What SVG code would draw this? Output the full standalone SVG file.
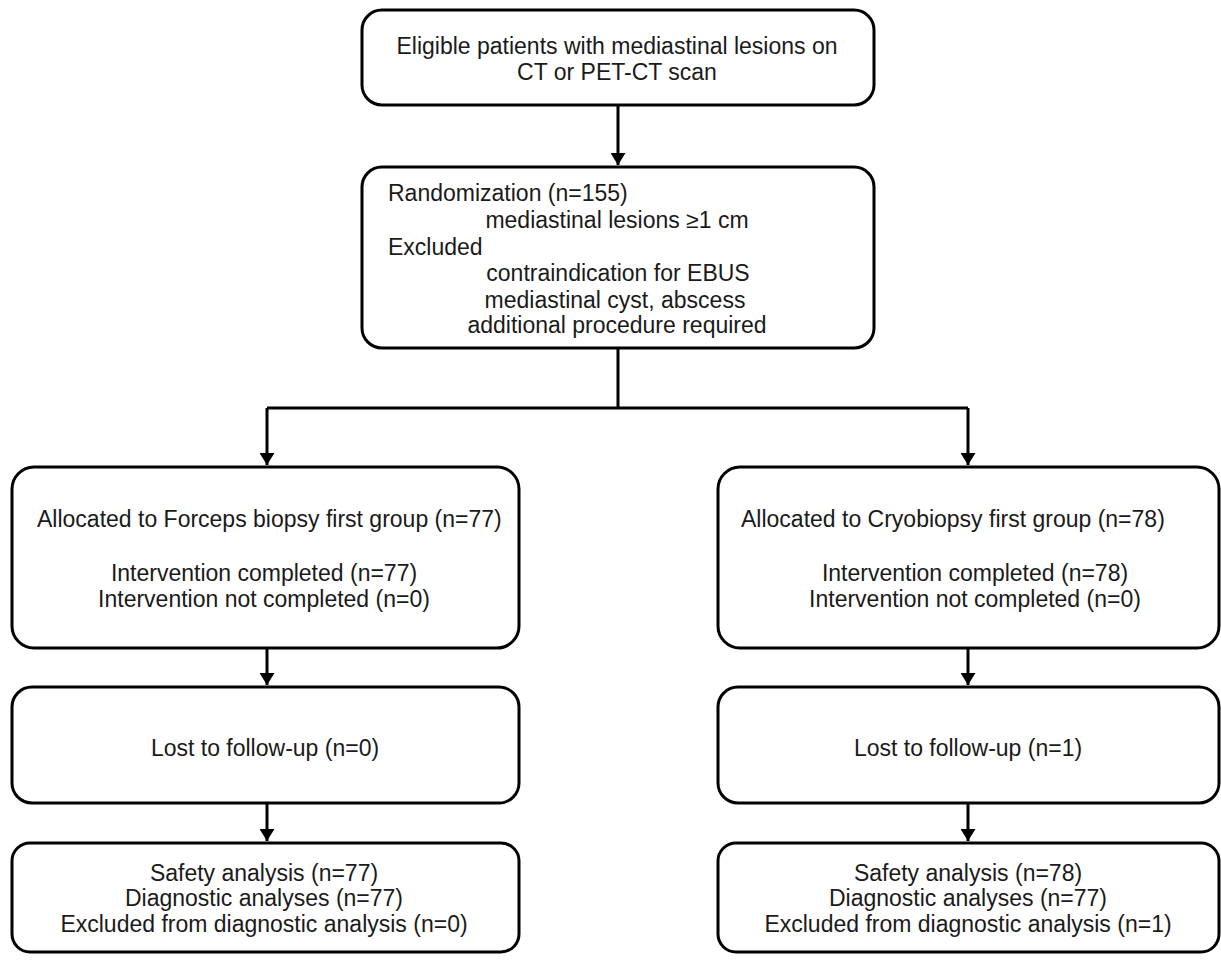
<svg xmlns="http://www.w3.org/2000/svg" width="1221" height="962" viewBox="0 0 1221 962">
<style>
.box{fill:#fff;stroke:#000;stroke-width:3}
.t{font-family:"Liberation Sans",Arial,sans-serif;font-size:23px;fill:#1a1a1a}
.c{text-anchor:middle}
.ln{fill:none;stroke:#000;stroke-width:3}
</style>
<defs>
<marker id="ah" markerWidth="5" markerHeight="5" refX="4" refY="2.5" orient="auto" markerUnits="strokeWidth">
<path d="M0,0 L4,2.5 L0,5 Z" fill="#000"/>
</marker>
</defs>
<rect width="1221" height="962" fill="#fff"/>
<g id="connectors">
<path class="ln" d="M618,105 V165" marker-end="url(#ah)"/>
<path class="ln" d="M618,348 V408"/>
<path class="ln" d="M267,408 H968"/>
<path class="ln" d="M267,408 V465" marker-end="url(#ah)"/>
<path class="ln" d="M968,408 V465" marker-end="url(#ah)"/>
<path class="ln" d="M267,648 V685" marker-end="url(#ah)"/>
<path class="ln" d="M968,648 V685" marker-end="url(#ah)"/>
<path class="ln" d="M267,803 V841" marker-end="url(#ah)"/>
<path class="ln" d="M968,803 V841" marker-end="url(#ah)"/>
</g>
<g id="n1">
<rect class="box" x="362" y="10" width="512" height="95" rx="20"/>
<text class="t c" x="617" y="54">Eligible patients with mediastinal lesions on</text>
<text class="t c" x="617" y="80">CT or PET-CT scan</text>
</g>
<g id="n2">
<rect class="box" x="362" y="167" width="512" height="181" rx="20"/>
<text class="t" x="388" y="201">Randomization (n=155)</text>
<text class="t c" x="617" y="228">mediastinal lesions ≥1 cm</text>
<text class="t" x="388" y="255">Excluded</text>
<text class="t c" x="618" y="281">contraindication for EBUS</text>
<text class="t c" x="615" y="308">mediastinal cyst, abscess</text>
<text class="t c" x="617" y="333">additional procedure required</text>
</g>
<g id="n3">
<rect class="box" x="12" y="467" width="507" height="181" rx="22"/>
<text class="t" x="37" y="527">Allocated to Forceps biopsy first group (n=77)</text>
<text class="t c" x="264" y="581">Intervention completed (n=77)</text>
<text class="t c" x="264" y="607">Intervention not completed (n=0)</text>
</g>
<g id="n4">
<rect class="box" x="718" y="467" width="501" height="181" rx="22"/>
<text class="t" x="741" y="527">Allocated to Cryobiopsy first group (n=78)</text>
<text class="t c" x="975" y="581">Intervention completed (n=78)</text>
<text class="t c" x="975" y="607">Intervention not completed (n=0)</text>
</g>
<g id="n5">
<rect class="box" x="12" y="687" width="507" height="116" rx="20"/>
<text class="t c" x="265" y="756">Lost to follow-up (n=0)</text>
</g>
<g id="n6">
<rect class="box" x="718" y="687" width="501" height="116" rx="20"/>
<text class="t c" x="968" y="756">Lost to follow-up (n=1)</text>
</g>
<g id="n7">
<rect class="box" x="12" y="843" width="507" height="109" rx="18"/>
<text class="t c" x="264" y="881">Safety analysis (n=77)</text>
<text class="t c" x="264" y="906">Diagnostic analyses (n=77)</text>
<text class="t c" x="264" y="932">Excluded from diagnostic analysis (n=0)</text>
</g>
<g id="n8">
<rect class="box" x="718" y="843" width="501" height="109" rx="18"/>
<text class="t c" x="968" y="881">Safety analysis (n=78)</text>
<text class="t c" x="968" y="906">Diagnostic analyses (n=77)</text>
<text class="t c" x="968" y="932">Excluded from diagnostic analysis (n=1)</text>
</g>
</svg>
